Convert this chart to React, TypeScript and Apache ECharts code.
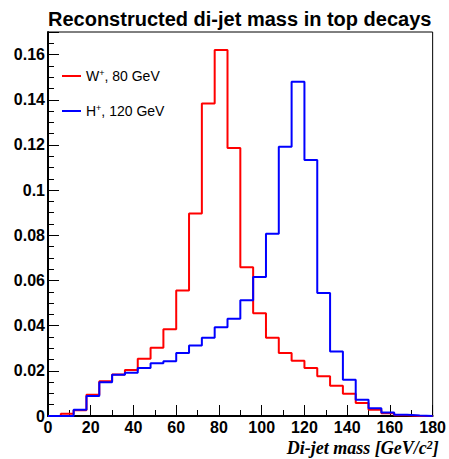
import React, { useEffect, useRef } from "react";
import * as echarts from "echarts";

const binStarts = [0, 6, 12, 18, 24, 30, 36, 42, 48, 54, 60, 66, 72, 78, 84, 90, 96, 102, 108, 114, 120, 126, 132, 138, 144, 150, 156, 162, 168, 174];
const binEnd = 180;

const wValues = [0, 0.001, 0.0025, 0.0094, 0.0154, 0.0184, 0.0204, 0.0254, 0.0302, 0.0384, 0.0556, 0.0896, 0.1384, 0.162, 0.1187, 0.0659, 0.0455, 0.0346, 0.0279, 0.0245, 0.0213, 0.0176, 0.0134, 0.0098, 0.0058, 0.0028, 0.0012, 0.0003, 0, 0];
const hValues = [0, 0, 0.0028, 0.0089, 0.0149, 0.0183, 0.0192, 0.0213, 0.0233, 0.0242, 0.0279, 0.0312, 0.0346, 0.0393, 0.043, 0.0512, 0.0615, 0.0807, 0.1192, 0.148, 0.1133, 0.0544, 0.0285, 0.0161, 0.0072, 0.0034, 0.0016, 0.0005, 0.0002, 0];

const seriesNames = ["W+, 80 GeV", "H+, 120 GeV"];
const legendRich: Record<string, string> = {
  "W+, 80 GeV": "{a|W}{s|+}{a|, 80 GeV}",
  "H+, 120 GeV": "{a|H}{s|+}{a|, 120 GeV}",
};

function histData(values: number[]) {
  const d: [number, number][] = binStarts.map((x, i) => [x, values[i]]);
  d.push([binEnd, values[values.length - 1]]);
  return d;
}

export default function App() {
  const ref = useRef<HTMLDivElement>(null);
  useEffect(() => {
    if (!ref.current) return;
    const chart = echarts.init(ref.current, null, { renderer: "svg" });
    const bold = { fontFamily: "Liberation Sans", fontWeight: "bold" as const, fontSize: 16, color: "#000" };
    chart.setOption({
      animation: false,
      backgroundColor: "#fff",
      title: {
        text: "Reconstructed di-jet mass in top decays",
        left: 43,
        top: 4,
        textStyle: { fontFamily: "Liberation Sans", fontWeight: "bold", fontSize: 20, color: "#000" },
      },
      legend: {
        orient: "vertical",
        left: 57,
        top: 63,
        itemWidth: 19,
        itemHeight: 2,
        itemGap: 20,
        icon: "rect",
        data: seriesNames,
        formatter: (name: string) => legendRich[name],
        textStyle: {
          fontFamily: "Liberation Sans",
          fontSize: 14,
          color: "#000",
          rich: {
            a: { fontFamily: "Liberation Sans", fontSize: 14, color: "#000", lineHeight: 16 },
            s: { fontFamily: "Liberation Sans", fontSize: 9, color: "#000", verticalAlign: "top", lineHeight: 16, padding: [0, 0, 6, 0] },
          },
        },
      },
      grid: {
        left: 48,
        right: 16,
        top: 32,
        bottom: 43,
        show: true,
        borderColor: "#000",
        borderWidth: 1,
        backgroundColor: "#fff",
      },
      xAxis: {
        type: "value",
        min: 0,
        max: 180,
        interval: 20,
        name: "Di-jet mass [GeV/c{s|2}{b|]}",
        nameLocation: "end",
        nameGap: 6,
        nameTextStyle: {
          fontFamily: "Liberation Serif",
          fontStyle: "italic",
          fontWeight: "bold",
          fontSize: 18,
          color: "#000",
          align: "right",
          verticalAlign: "top",
          padding: [23, 0, 0, 0],
          rich: {
            s: { fontFamily: "Liberation Serif", fontStyle: "italic", fontWeight: "bold", fontSize: 12, color: "#000", verticalAlign: "top", lineHeight: 12, padding: [0, 0, 8, 0] },
            b: { fontFamily: "Liberation Serif", fontStyle: "italic", fontWeight: "bold", fontSize: 18, color: "#000" },
          },
        },
        axisLine: { show: true, onZero: false, lineStyle: { color: "#000", width: 2 } },
        axisTick: { show: true, inside: true, length: 11, lineStyle: { color: "#000", width: 1 } },
        minorTick: { show: true, splitNumber: 2, length: 6, lineStyle: { color: "#000", width: 1 } },
        splitLine: { show: false },
        axisLabel: { ...bold, margin: 3, formatter: (v: number) => String(Math.round(v)) },
      },
      yAxis: {
        type: "value",
        min: 0,
        max: 0.17,
        interval: 0.02,
        axisLine: { show: true, onZero: false, lineStyle: { color: "#000", width: 2 } },
        axisTick: { show: true, inside: true, length: 11, lineStyle: { color: "#000", width: 1 } },
        minorTick: { show: true, splitNumber: 4, length: 6, lineStyle: { color: "#000", width: 1 } },
        splitLine: { show: false },
        axisLabel: {
          ...bold,
          margin: 3,
          showMaxLabel: false,
          formatter: (v: number) => String(Number(v.toFixed(3))),
        },
      },
      series: [
        {
          name: seriesNames[0],
          type: "line",
          step: "end",
          symbol: "none",
          data: histData(wValues),
          color: "#ff0000",
          lineStyle: { color: "#ff0000", width: 2 },
        },
        {
          name: seriesNames[1],
          type: "line",
          step: "end",
          symbol: "none",
          data: histData(hValues),
          color: "#0000ff",
          lineStyle: { color: "#0000ff", width: 2 },
        },
      ],
    });
    return () => chart.dispose();
  }, []);
  return <div ref={ref} style={{ width: 449, height: 459, position: "absolute", left: 0, top: 0 }} />;
}
